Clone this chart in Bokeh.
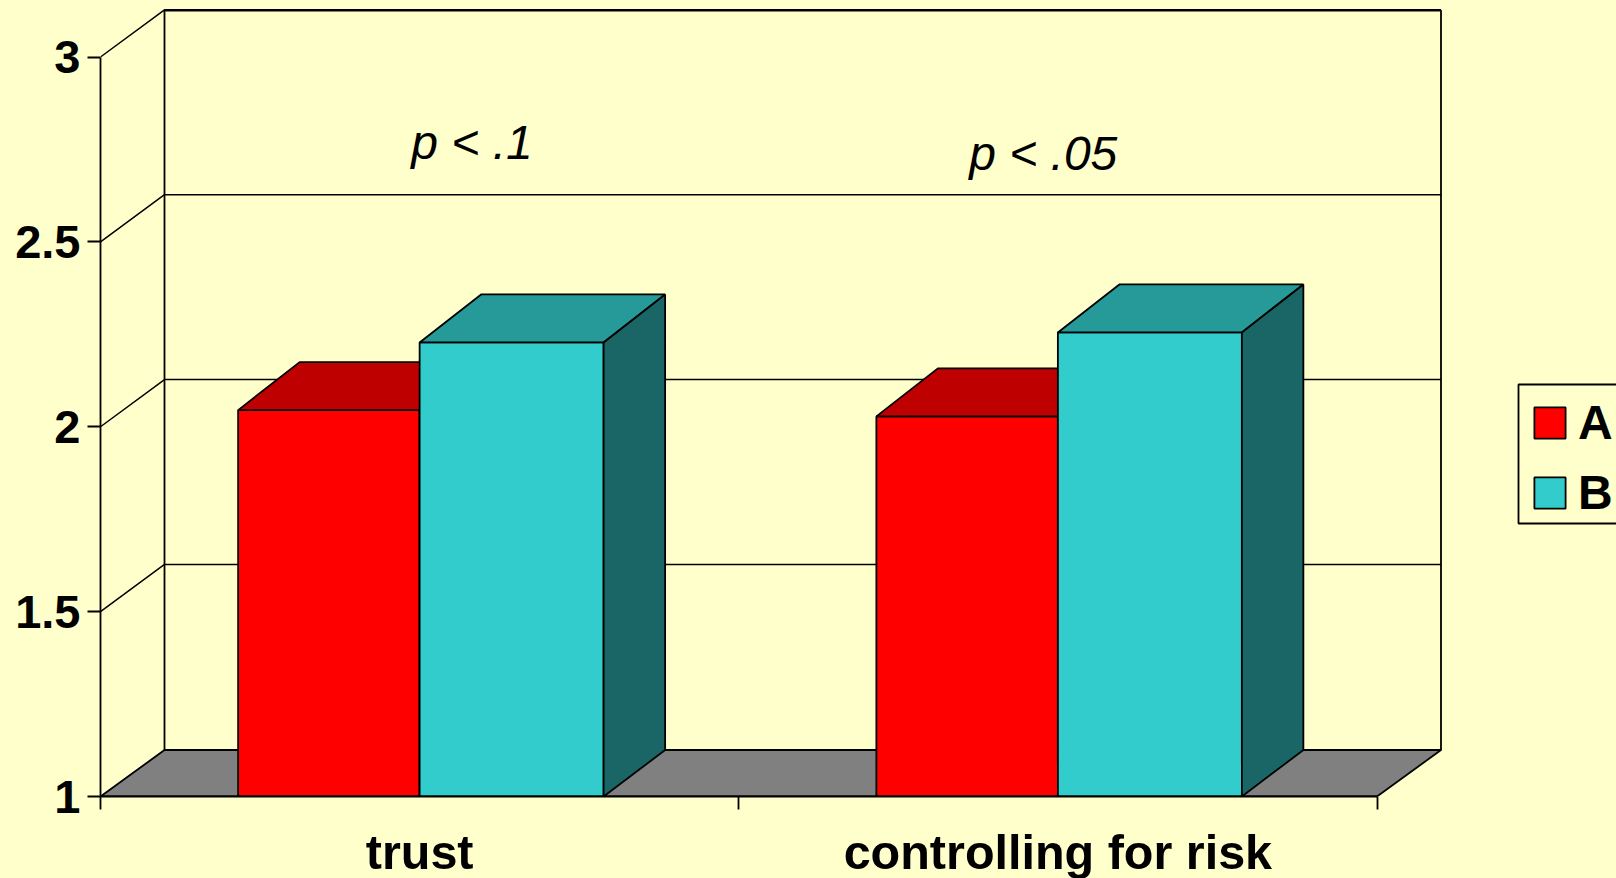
from bokeh.plotting import figure
from bokeh.embed import file_html
from bokeh.resources import INLINE
from bokeh.core.properties import value
from bokeh.models import FixedTicker, Legend, LegendItem, LinearAxis, Range1d

# ---- data ----
categories = ["trust", "controlling for risk"]
series_names = ["A", "B"]
series_a = [2.045, 2.028]
series_b = [2.228, 2.255]
y_ticks = [1, 1.5, 2, 2.5, 3]
y_tick_labels = ["1", "1.5", "2", "2.5", "3"]
notes = ["p < .1", "p < .05"]

# ---- styling / layout ----
BG = "#FFFFCC"
FONT = "Liberation Sans"
W, H = 1616, 878
LEFT, BOTTOM = 100, 82
PX_X = 638.25      # pixels per category
PX_Y = 369.75      # pixels per value unit
BAR_W_A = 181.5 / PX_X
BAR_W_B = 184 / PX_X
WALL_DX, WALL_DY = 64 / PX_X, 46.5 / PX_Y
BAR_DX, BAR_DY = 61.5 / PX_X, 48 / PX_Y
LW = 1.8
GRID_LW = 1.5

y0, y1 = y_ticks[0], y_ticks[-1]
x1 = len(categories)

p = figure(
    frame_width=W - LEFT, frame_height=H - BOTTOM, output_backend="svg", toolbar_location=None,
    x_range=Range1d(0, (W - LEFT) / PX_X),
    y_range=Range1d(y0, y0 + (H - BOTTOM) / PX_Y),
    x_axis_type=None, y_axis_type=None,
    min_border_left=LEFT, min_border_bottom=BOTTOM, min_border_top=0, min_border_right=0,
    background_fill_color=BG, border_fill_color=BG,
)
p.outline_line_color = None
p.xgrid.visible = False
p.ygrid.visible = False

# back wall, floor, grid lines, left-wall diagonals
p.quad(left=[WALL_DX], right=[x1 + WALL_DX], bottom=[y0 + WALL_DY], top=[y1 + WALL_DY],
       fill_color=None, line_color="black", line_width=LW)
p.patch([0, x1, x1 + WALL_DX, WALL_DX], [y0, y0, y0 + WALL_DY, y0 + WALL_DY],
        fill_color="#808080", line_color="black", line_width=LW)
for t in y_ticks[1:]:
    p.line([0, WALL_DX, x1 + WALL_DX], [t, t + WALL_DY + 0.7 / PX_Y, t + WALL_DY + 0.7 / PX_Y],
           line_color="black", line_width=GRID_LW)


def draw_bars(lefts, bar_w, vals, front, top, side):
    r = p.quad(left=lefts, right=[l + bar_w for l in lefts], bottom=[y0] * len(vals), top=vals,
               fill_color=front, line_color="black", line_width=LW)
    for l, v in zip(lefts, vals):
        rr = l + bar_w
        p.patch([l, rr, rr + BAR_DX, l + BAR_DX], [v, v, v + BAR_DY, v + BAR_DY],
                fill_color=top, line_color="black", line_width=LW)
        p.patch([rr, rr + BAR_DX, rr + BAR_DX, rr], [y0, y0 + WALL_DY, v + BAR_DY, v],
                fill_color=side, line_color="black", line_width=LW)
    return r


centers = [i + 0.5 for i in range(len(categories))]
r_a = draw_bars([c - BAR_W_A for c in centers], BAR_W_A, series_a, "#FF0000", "#BF0000", "#800000")
r_b = draw_bars(centers, BAR_W_B, series_b, "#33CCCC", "#269999", "#1A6666")

# significance notes
p.text(x=[0.487, 1.361], y=[2.77, 2.738], text=notes,
       text_font=value(FONT), text_font_style="italic", text_font_size="48px",
       text_baseline="alphabetic", text_align="left", text_color="black")

# axes
yaxis = LinearAxis(
    bounds=(y0, y1),
    ticker=FixedTicker(ticks=y_ticks),
    major_label_overrides={t: s for t, s in zip(y_ticks, y_tick_labels)},
    major_tick_in=0, major_tick_out=13, major_tick_line_width=LW, major_tick_line_color="black",
    minor_tick_line_color=None,
    axis_line_color="black", axis_line_width=LW,
    major_label_text_font=FONT, major_label_text_font_style="bold",
    major_label_text_font_size="47px", major_label_text_color="black", major_label_standoff=7,
)
p.add_layout(yaxis, "left")
xaxis = LinearAxis(
    bounds=(0, x1),
    ticker=FixedTicker(ticks=centers, minor_ticks=list(range(x1 + 1))),
    major_label_overrides={c: s for c, s in zip(centers, categories)},
    major_tick_line_color=None, major_tick_in=0, major_tick_out=0,
    minor_tick_in=0, minor_tick_out=13, minor_tick_line_width=LW, minor_tick_line_color="black",
    axis_line_color="black", axis_line_width=LW,
    major_label_text_font=FONT, major_label_text_font_style="bold",
    major_label_text_font_size="48.5px", major_label_text_color="black", major_label_standoff=15,
)
p.add_layout(xaxis, "below")

# legend: frame runs off the right edge of the page, as in the reference
p.quad(left=[(1518 - LEFT) / PX_X], right=[(1700 - LEFT) / PX_X],
       bottom=[y0 + (H - BOTTOM - 523) / PX_Y], top=[y0 + (H - BOTTOM - 384) / PX_Y],
       fill_color=None, line_color="black", line_width=LW)
legend = Legend(
    items=[LegendItem(label=series_names[0], renderers=[r_a]),
           LegendItem(label=series_names[1], renderers=[r_b])],
    location=(1430, 276), orientation="vertical", margin=0, padding=8, spacing=15,
    glyph_width=39, glyph_height=39, label_standoff=9,
    label_text_font=FONT, label_text_font_style="bold", label_text_font_size="48px",
    label_text_color="black",
    background_fill_alpha=0.0, border_line_color=None,
)
p.add_layout(legend, "center")

html = file_html(p, INLINE)
html = html.replace("<head>", "<head><style>html,body{background:%s;overflow:hidden}</style>" % BG, 1)
open("out.html", "w").write(html)
